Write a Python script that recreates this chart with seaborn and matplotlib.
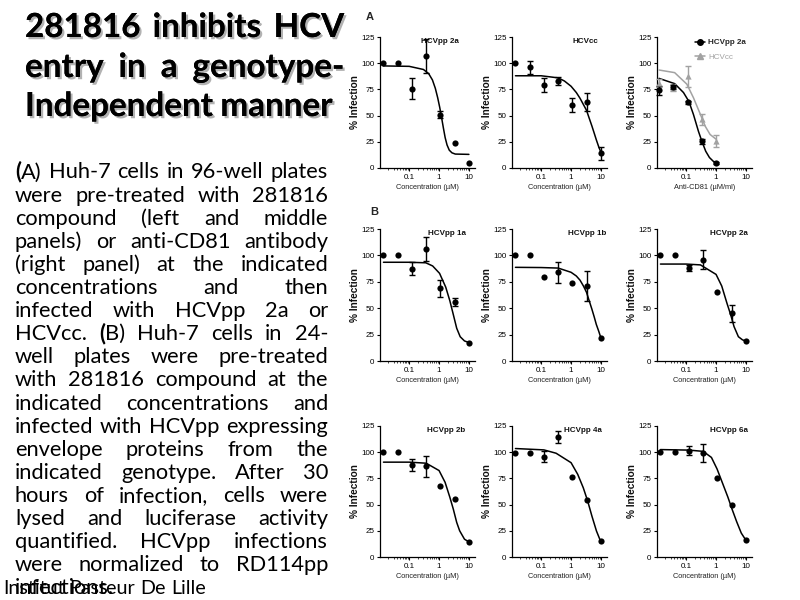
import matplotlib
matplotlib.use("Agg")
import pandas as pd
import seaborn as sns
import matplotlib.pyplot as plt
from matplotlib import font_manager, patheffects
from matplotlib.lines import Line2D
from matplotlib.ticker import FixedLocator, LogLocator, NullFormatter

sns.set_theme(style="ticks")
nomes = {f.name for f in font_manager.fontManager.ttflist}
fonte_painel = "Liberation Sans Narrow" if "Liberation Sans Narrow" in nomes else "Liberation Sans"
fonte_texto = "Lato" if "Lato" in nomes else "DejaVu Sans"
plt.rcParams["font.family"] = [fonte_painel, "DejaVu Sans"]

# Concentrações (diluição 1:3)
conc = [0.0137, 0.041, 0.123, 0.37, 1.11, 3.33, 10]
conc_cd81 = [0.0123, 0.037, 0.111, 0.333, 1.0]

# A - HCVpp 2a
a1_y = [100, 100, 75.5, 107, 51, 24, 4.5]
a1_err = [0, 0, 10, 16, 3, 0, 0]
a1_cx = [0.0137, 0.1, 0.3, 0.45, 0.6, 0.75, 0.9, 1.05, 1.2, 1.4, 1.6, 1.85, 2.2, 2.7, 3.5, 10]
a1_cy = [97.4, 97, 94, 90, 84, 76, 67, 58, 49, 38, 29, 22, 17, 14.5, 13.3, 13]

# A - HCVcc
a2_y = [100, 96, 79, 83, 60, 63, 14]
a2_err = [0, 6.5, 6.5, 4, 7, 8.5, 6.5]
a2_cx = [0.0137, 0.1, 0.37, 0.6, 1, 1.5, 2, 3.3, 4, 5, 6, 7, 8.5, 10]
a2_cy = [88, 88, 86, 83, 78, 72, 66.5, 55, 48, 40, 33, 27, 20, 15]

# A - anti-CD81
a3_pp_y = [74, 77.5, 62.6, 25.3, 4.7]
a3_pp_err = [4.5, 2, 1.5, 2, 1]
a3_cc_y = [81, 76.6, 87.7, 46.5, 26]
a3_cc_err = [4, 3.5, 10, 5, 5.5]
a3_pp_cx = [0.0123, 0.041, 0.081, 0.123, 0.175, 0.257, 0.33, 0.45, 0.6, 0.8, 1.0]
a3_pp_cy = [85.5, 80.5, 72, 63.5, 51, 35, 26, 16, 10, 6.5, 5]
a3_cc_cx = [0.0123, 0.041, 0.105, 0.175, 0.29, 0.43, 0.63, 1.0]
a3_cc_cy = [93.5, 91, 80, 67, 52, 40, 32, 27.5]

# B - genótipos
b1_y = [100, 100, 87.5, 106, 69, 56, 17.5]
b1_err = [0, 0, 6.5, 11, 8, 4, 0]
b1_cx = [0.0137, 0.1, 0.36, 0.61, 1.04, 1.67, 2.3, 3.0, 3.9, 5.1, 7.1, 10]
b1_cy = [93.5, 93.5, 93, 90, 83, 70, 57, 44, 31, 23, 19, 17.5]

b2_y = [100, 100, 80, 84, 74.3, 71, 21.8]
b2_err = [0, 0, 0, 10, 0, 14, 0]
b2_cx = [0.0137, 0.1, 0.37, 1, 1.5, 2, 2.6, 3.3, 4, 5, 6, 7, 8.5, 10]
b2_cy = [88.7, 88.5, 88, 84, 80.5, 76.5, 71, 65, 57.5, 49, 41.5, 34.7, 28, 21.8]

b3_y = [100, 100, 88, 96, 65, 45, 19]
b3_err = [0, 0, 3, 9, 0, 8, 0]
b3_cx = [0.0137, 0.1, 0.3, 1, 1.55, 2.3, 3.1, 4.0, 5.6, 7.7, 10]
b3_cy = [91.8, 91.8, 91, 82, 71, 55, 43.7, 32.6, 23, 20, 19]

c1_y = [100, 100, 87.8, 86.5, 67.5, 55.3, 14.7]
c1_err = [0, 0, 5.5, 10, 0, 0, 0]
c1_cx = [0.0137, 0.1, 0.37, 1, 1.59, 2.3, 3.0, 3.9, 4.9, 7.1, 10]
c1_cy = [90.5, 90.5, 89.5, 82.5, 71.3, 57, 45.7, 33, 25, 17, 14.4]

c2_y = [99.4, 99.4, 95.6, 114.6, 76.8, 54.5, 15.3]
c2_err = [0, 0, 5.3, 5.5, 0, 0, 0]
c2_cx = [0.0137, 0.123, 0.316, 1, 1.67, 2.57, 3.6, 5.0, 7.1, 10]
c2_cy = [103.5, 102.2, 99, 90, 78.9, 66, 53.4, 39, 24.8, 14.3]

c3_y = [100, 100, 101.5, 99.2, 75.3, 49.6, 16.6]
c3_err = [0, 0, 4.3, 9, 0, 0, 0]
c3_cx = [0.0137, 0.123, 0.37, 0.70, 1.08, 1.67, 2.5, 3.4, 4.9, 7.0, 10]
c3_cy = [102.5, 102, 100.8, 95, 84, 70, 57, 46, 33.7, 22.8, 16]

titulo = ["281816 inhibits HCV", "entry in a genotype-", "Independent manner"]
corpo = [
    "(A) Huh-7 cells in 96-well plates",
    "were pre-treated with 281816",
    "compound (left and middle",
    "panels) or anti-CD81 antibody",
    "(right panel) at the indicated",
    "concentrations and then",
    "infected with HCVpp 2a or",
    "HCVcc. (B) Huh-7 cells in 24-",
    "well plates were pre-treated",
    "with 281816 compound at the",
    "indicated concentrations and",
    "infected with HCVpp expressing",
    "envelope proteins from the",
    "indicated genotype. After 30",
    "hours of infection, cells were",
    "lysed and luciferase activity",
    "quantified. HCVpp infections",
    "were normalized to RD114pp",
    "infections.",
]
rodape = "Institut Pasteur De Lille"

CINZA = "#a2a2a2"

fig = plt.figure(figsize=(8, 6), dpi=100)
fig.patch.set_facecolor("white")
ren = fig.canvas.get_renderer()


def eixo(col, lin):
    esq = [380, 512, 657][col]
    topo = [37, 229, 426][lin]
    base = [168, 361, 557][lin]
    return fig.add_axes([esq / 800, 1 - base / 600, 95 / 800, (base - topo) / 600])


def formatar(ax, xlabel):
    ax.set_xscale("log")
    ax.set_xlim(0.0105, 16)
    ax.set_ylim(0, 125)
    ax.set_yticks([0, 25, 50, 75, 100, 125])
    ax.xaxis.set_major_locator(FixedLocator([0.1, 1, 10]))
    ax.set_xticklabels(["0.1", "1", "10"])
    ax.xaxis.set_minor_locator(LogLocator(base=10, subs=range(2, 10)))
    ax.xaxis.set_minor_formatter(NullFormatter())
    ax.set_facecolor("white")
    sns.despine(ax=ax)
    for s in ["left", "bottom"]:
        ax.spines[s].set_color("black")
        ax.spines[s].set_linewidth(0.9)
    ax.tick_params(which="major", length=2.5, width=0.8, pad=1.5, labelsize=5.8, colors="black")
    ax.tick_params(which="minor", length=1.4, width=0.5, colors="black")
    ax.set_xlabel(xlabel, fontsize=5.3, labelpad=2.5, color="#222222")
    ax.set_ylabel("% Infection", fontsize=7.3, fontweight="bold", labelpad=0.5, color="#111111")


def serie(ax, x, y, err, cx, cy, cor, marcador):
    df = pd.DataFrame({"conc": x, "pct": y, "err": err})
    curva = pd.DataFrame({"conc": cx, "pct": cy})
    sns.lineplot(data=curva, x="conc", y="pct", ax=ax, color=cor, lw=1.1,
                 sort=False, estimator=None, zorder=3)
    com_erro = df[df["err"] > 0]
    ax.errorbar(com_erro["conc"], com_erro["pct"], yerr=com_erro["err"], fmt="none",
                ecolor=cor, elinewidth=1.0, capsize=2.2, capthick=1.0, zorder=4, clip_on=False)
    sns.scatterplot(data=df, x="conc", y="pct", ax=ax, color=cor, marker=marcador, s=20,
                    linewidth=0, zorder=5, clip_on=False)


paineis = [
    (0, 0, "HCVpp 2a", a1_y, a1_err, a1_cx, a1_cy, 0.63),
    (1, 0, "HCVcc", a2_y, a2_err, a2_cx, a2_cy, 0.77),
    (0, 1, "HCVpp 1a", b1_y, b1_err, b1_cx, b1_cy, 0.70),
    (1, 1, "HCVpp 1b", b2_y, b2_err, b2_cx, b2_cy, 0.79),
    (2, 1, "HCVpp 2a", b3_y, b3_err, b3_cx, b3_cy, 0.76),
    (0, 2, "HCVpp 2b", c1_y, c1_err, c1_cx, c1_cy, 0.70),
    (1, 2, "HCVpp 4a", c2_y, c2_err, c2_cx, c2_cy, 0.75),
    (2, 2, "HCVpp 6a", c3_y, c3_err, c3_cx, c3_cy, 0.76),
]

for col, lin, nome, y, err, cx, cy, xt in paineis:
    ax = eixo(col, lin)
    serie(ax, conc, y, err, cx, cy, "black", "o")
    formatar(ax, "Concentration (µM)")
    ax.text(xt, 0.965, nome, transform=ax.transAxes, ha="center", va="center",
            fontsize=5.8, fontweight="bold", color="#111111")

# painel anti-CD81
ax = eixo(2, 0)
serie(ax, conc_cd81, a3_cc_y, a3_cc_err, a3_cc_cx, a3_cc_cy, CINZA, "^")
serie(ax, conc_cd81, a3_pp_y, a3_pp_err, a3_pp_cx, a3_pp_cy, "black", "o")
formatar(ax, "Anti-CD81 (µM/ml)")
alcas = [Line2D([], [], color="black", marker="o", lw=1.1, ms=4),
         Line2D([], [], color=CINZA, marker="^", lw=1.1, ms=4)]
leg = ax.legend(alcas, ["HCVpp 2a", "HCVcc"], loc="upper right", bbox_to_anchor=(1.0, 1.03),
                frameon=False, fontsize=5.8, handlelength=1.3, handletextpad=0.4,
                labelspacing=0.9, borderpad=0.2)
leg.get_texts()[0].set_fontweight("bold")
leg.get_texts()[1].set_color(CINZA)

fig.text(370 / 800, 1 - 17 / 600, "A", fontsize=8, fontweight="bold", ha="center", va="center")
fig.text(374 / 800, 1 - 212 / 600, "B", fontsize=8, fontweight="bold", ha="center", va="center")


# texto do slide, justificado palavra a palavra
def largura(texto, tam, peso="normal"):
    t = fig.text(0, 0, texto, fontsize=tam, fontweight=peso, family=fonte_texto)
    w = t.get_window_extent(ren).width
    t.remove()
    return w


def escrever_linha(texto, x0, x1, y, tam, peso="normal", justificar=True, efeitos=None):
    itens = []
    for w in texto.split(" "):
        segs = [("(", "bold"), (w[1:], peso)] if w in ("(A)", "(B)") else [(w, peso)]
        objs = []
        for s, pw in segs:
            t = fig.text(0, 1 - y / 600, s, fontsize=tam, fontweight=pw, family=fonte_texto,
                         va="baseline", ha="left", color="black", path_effects=efeitos)
            objs.append((t, t.get_window_extent(ren).width))
        itens.append((objs, sum(l for _, l in objs)))
    total = sum(l for _, l in itens)
    if justificar and len(itens) > 1:
        gap = (x1 - x0 - total) / (len(itens) - 1)
    else:
        gap = largura("x x", tam, peso) - largura("xx", tam, peso)
    x = x0
    for objs, _ in itens:
        for t, wpx in objs:
            t.set_x(x / 800)
            x += wpx
        x += gap


sombra = [patheffects.withSimplePatchShadow(offset=(1.6, -1.6), shadow_rgbFace="0.45", alpha=0.55),
          patheffects.Normal()]
tam_tit = 10 * 310 / largura(titulo[2], 10, "bold")
for i, linha in enumerate(titulo):
    escrever_linha(linha, 25, 344, [37, 77, 116][i], tam_tit, "bold",
                   justificar=(i < 2), efeitos=sombra)

tam_corpo = 10 * 311 / max(largura(l, 10) for l in corpo)
for i, linha in enumerate(corpo):
    escrever_linha(linha, 15, 328, 178.5 + i * 23.1, tam_corpo, justificar=(i < len(corpo) - 1))

tam_rod = 10 * 203 / largura(rodape, 10)
escrever_linha(rodape, 3, 206, 594, tam_rod, justificar=False)

fig.savefig("out.png", dpi=100, facecolor="white")
